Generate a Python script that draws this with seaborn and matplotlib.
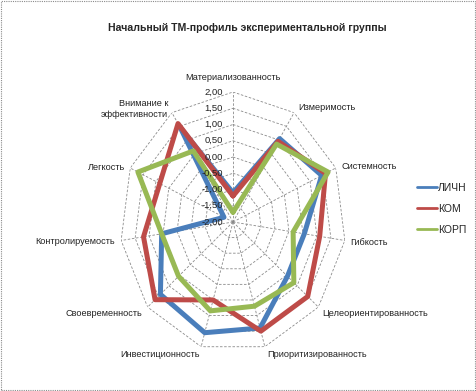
import numpy as np
import pandas as pd
import matplotlib
matplotlib.use("Agg")
import matplotlib.pyplot as plt
import seaborn as sns
from matplotlib.lines import Line2D
from matplotlib.patches import Rectangle

categories = ["Материализованность", "Измеримость", "Системность", "Гибкость",
              "Целеориентированность", "Приоритизированность", "Инвестиционность",
              "Своевременность", "Контролируемость", "Легкость",
              "Внимание к\nэффективности"]
series_names = ["ЛИЧН", "КОМ", "КОРП"]
lichn = [-1.10, 1.05, 1.45, 0.55, 0.55, 1.40, 1.55, 1.40, 0.55, -1.65, 1.45]
kom = [-1.20, 0.95, 1.60, 1.10, 1.50, 1.50, 0.50, 1.65, 1.20, 0.85, 1.60]
korp = [-1.70, 0.85, 1.70, 0.15, 0.85, 0.70, 0.85, 0.55, 0.55, 1.70, 0.60]
levels = [-2.0, -1.5, -1.0, -0.5, 0.0, 0.5, 1.0, 1.5, 2.0]
colors = ["#4A7EBB", "#BE4B48", "#98B954"]

sns.set_theme(style="white")
plt.rcParams["font.family"] = ["Liberation Sans", "DejaVu Sans"]

n = len(categories)
angles = np.linspace(0, 2 * np.pi, n, endpoint=False)
closed = np.append(angles, angles[0])

rows = []
for name, vals in zip(series_names, [lichn, kom, korp]):
    for i, a in enumerate(closed):
        rows.append({"theta": a, "value": vals[i % n], "series": name, "order": i})
df = pd.DataFrame(rows)

fig = plt.figure(figsize=(4.76, 3.91), dpi=100)
ax = fig.add_axes([120 / 476, 39 / 391, 226 / 476, 260 / 391], projection="polar")
ax.set_aspect("auto")
ax.set_theta_zero_location("N")
ax.set_theta_direction(-1)
ax.set_ylim(-2, 2)
ax.grid(False)
ax.spines["polar"].set_visible(False)
ax.set_xticks([])
ax.set_yticks([])
ax.patch.set_alpha(0)

# polygon grid
for lv in levels[1:]:
    ax.plot(closed, [lv] * len(closed), color="#8a8a8a", lw=0.6, ls=(0, (3, 2)), zorder=1)
for a in angles:
    ax.plot([a, a], [-2, 2], color="#8a8a8a", lw=0.6, ls=(0, (3, 2)), zorder=1)

sns.lineplot(data=df, x="theta", y="value", hue="series", palette=colors,
             sort=False, estimator=None, units="series", linewidth=3.6,
             legend=False, ax=ax, zorder=3)
ax.set_xlabel("")
ax.set_ylabel("")

for lv in levels:
    ax.annotate(f"{lv:.2f}".replace(".", ","), (0, lv), xytext=(-10, 0),
                textcoords="offset pixels", ha="right", va="center",
                fontsize=6.8, color="#222222", zorder=4)

# category labels: offsets in pixels from the outer vertex
label_pos = [((0, 14), "center"), ((4, 5), "left"), ((6, 1), "left"),
             ((5, -2), "left"), ((4, -6), "left"), ((2, -8), "left"),
             ((-1, -8), "right"), ((-5, -6), "right"), ((-6, -1), "right"),
             ((-5, 0), "right"), ((-4, 4), "right")]
for a, lab, (off, ha) in zip(angles, categories, label_pos):
    ax.annotate(lab, (a, 2.0), xytext=off, textcoords="offset pixels",
                ha=ha, va="center", fontsize=6.6, color="#222222",
                multialignment="right", linespacing=1.3, annotation_clip=False)

fig.text(247 / 476, 1 - 28 / 391, "Начальный ТМ-профиль экспериментальной группы",
         ha="center", va="center", fontsize=7.6, fontweight="bold")

handles = [Line2D([], [], color=c, lw=2) for c in colors]
fig.legend(handles, series_names, loc="center left",
           bbox_to_anchor=(417 / 476, 1 - 209 / 391), frameon=False,
           fontsize=7.5, handlelength=1.9, handletextpad=0.15,
           labelspacing=1.05, borderpad=0, borderaxespad=0)

fig.patches.append(Rectangle((0.002, 0.003), 0.995, 0.994, transform=fig.transFigure,
                             fill=False, ec="#8a8a8a", ls=(0, (1, 1)), lw=0.8))

fig.savefig("out.png", dpi=100)
